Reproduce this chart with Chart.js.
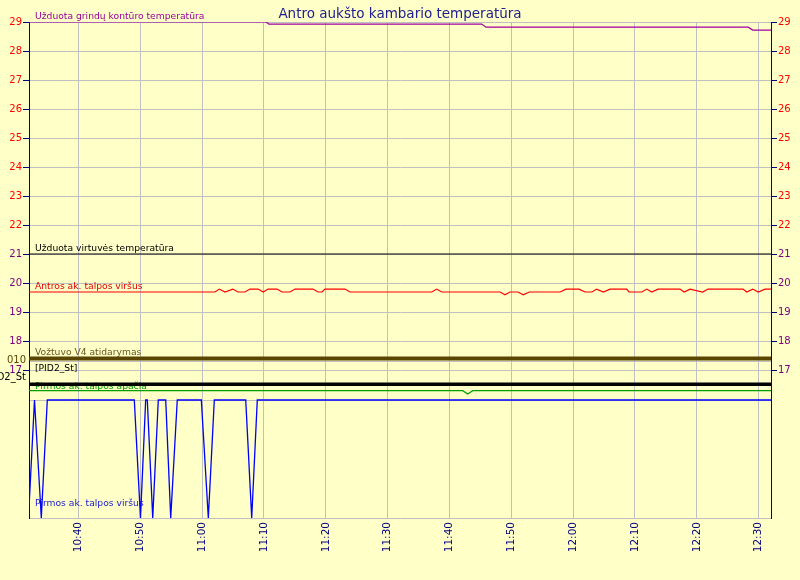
<!DOCTYPE html>
<html><head><meta charset="utf-8">
<script src="https://cdn.jsdelivr.net/npm/chart.js@4/dist/chart.umd.min.js"></script>
<style>html,body{margin:0;padding:0;background:#ffffc8;}canvas{display:block;}</style>
</head><body><canvas id="c" width="800" height="580"></canvas>
<script>
// ---- data (time = minutes after 10:32) ----
const START_CLOCK = '10:32';
const END_MIN = 120;
const timeTicks = ['10:40','10:50','11:00','11:10','11:20','11:30','11:40','11:50','12:00','12:10','12:20','12:30'];
const tempTicks = [17,18,19,20,21,22,23,24,25,26,27,28,29];

const floorSetT = [0, 38.33, 38.81, 73.21, 73.91, 116.33, 117.04, 120];
const floorSetV = [29, 29, 28.93, 28.93, 28.82, 28.82, 28.72, 28.72];

const kitchenSetT = [0, 120];
const kitchenSetV = [21, 21];

const tank2TopT = [0,30.08,30.78,31.70,32.94,33.80,34.93,35.74,37.03,37.89,
  38.65,40.11,40.92,42.21,43.02,45.93,46.74,47.38,47.87,51.11,
  51.91,65.13,65.94,66.75,76.18,76.98,77.79,79.08,79.94,80.91,
  85.88,86.85,88.95,89.92,91.05,91.81,92.88,93.96,96.66,97.03,
  99.13,99.90,100.71,101.73,105.29,105.94,106.91,108.95,109.81,115.47,
  116.07,117.04,117.94,119.03,120];
const tank2TopV = [19.69,19.69,19.79,19.69,19.79,19.69,19.69,19.79,19.79,19.69,
  19.79,19.79,19.69,19.69,19.79,19.79,19.69,19.69,19.79,19.79,
  19.69,19.69,19.79,19.69,19.69,19.59,19.69,19.69,19.59,19.69,
  19.69,19.79,19.79,19.69,19.69,19.79,19.69,19.79,19.79,19.69,
  19.69,19.79,19.69,19.79,19.79,19.69,19.79,19.69,19.79,19.79,
  19.69,19.79,19.69,19.79,19.79];

const valveT = [0, 120];
const valveV = [0, 0];

const pidT = [0, 120];
const pidV = [1, 1];

const tank1BottomT = [0, 70.14, 70.95, 71.76, 120];
const tank1BottomV = [25.0, 25.0, 24.5, 25.0, 25.0];

const tank1TopT = [0,0.89,1.99,2.96,17.03,18.03,18.87,19.13,20.01,20.91,
  22.11,22.92,23.98,27.87,29.00,29.97,35.05,36.02,36.92,120];
const tank1TopV = [0.09,1,0,1,1,0,1,1,0,1,
  1,0,1,1,0,1,1,0,1,1];

// ---- helpers ----
const clockToMin = s => { const [h,m] = s.split(':').map(Number); const [h0,m0] = START_CLOCK.split(':').map(Number); return h*60+m-(h0*60+m0); };
const pts = (t, v) => t.map((x, i) => ({x, y: v[i]}));

const BG = '#ffffc8', GRID = '#c0c0c0', NAVY = '#000080';
const RED = '#ff0000', PURPLE = '#990099', LABPURPLE = '#800080';
const FONT = 'DejaVu Sans';

const seriesLabels = [
  {ds:0, text:'Užduota grindų kontūro temperatūra', color:PURPLE, dy:-3},
  {ds:1, text:'Užduota virtuvės temperatūra', color:'#000000', dy:-3},
  {ds:2, text:'Antros ak. talpos viršus', color:'#e00000', dy:-2.5},
  {ds:3, text:'Vožtuvo V4 atidarymas', color:'#6a5420', dy:-3.5},
  {ds:4, text:'[PID2_St]', color:'#000000', dy:-13},
  {ds:5, text:'Pirmos ak. talpos apačia', color:'#00a000', dy:-1.5},
  {ds:6, text:'Pirmos ak. talpos viršus', color:'#1a1ad0', dy:-1.5},
];
const bandLabels = [
  {ds:3, text:'010', color:'#5a4600', dy:2},
  {ds:4, text:'PID2_St', color:'#000000', dy:-7},
];

const bgPlugin = {
  id:'bg',
  beforeDraw(chart){ const c=chart.ctx; c.save(); c.fillStyle=BG; c.fillRect(0,0,chart.width,chart.height); c.restore(); }
};
const labelPlugin = {
  id:'labels',
  beforeDatasetsDraw(chart){
    const c=chart.ctx, a=chart.chartArea;
    c.save();
    c.font = '9.2px "'+FONT+'"';
    c.textAlign='left'; c.textBaseline='alphabetic';
    seriesLabels.forEach(l=>{
      const p = chart.getDatasetMeta(l.ds).data[0];
      c.fillStyle=l.color; c.fillText(l.text, a.left+6, p.y+l.dy);
    });
    c.restore();
  },
  afterDraw(chart){
    const c=chart.ctx, a=chart.chartArea;
    c.save();
    c.font = '10px "'+FONT+'"';
    c.textAlign='right'; c.textBaseline='middle';
    bandLabels.forEach(l=>{
      const p = chart.getDatasetMeta(l.ds).data[0];
      c.fillStyle=l.color; c.fillText(l.text, a.left-3, p.y+l.dy);
    });
    c.restore();
  }
};

const ds = (label, t, v, color, width, axis) => ({
  label, data: pts(t, v), borderColor: color, backgroundColor: color,
  borderWidth: width, pointRadius: 0, tension: 0, yAxisID: axis, fill:false
});

const tempScale = (pos) => ({
  type:'linear', position:pos, min: 29 - 496/29, max: 29,
  afterBuildTicks: s => { s.ticks = tempTicks.map(v => ({value:v})); },
  afterFit: s => { s.width = 29; },
  ticks: { color: c => (c.tick && c.tick.value >= 22) ? RED : LABPURPLE, font:{family:FONT, size:10}, padding:1, autoSkip:false },
  grid: { color: GRID, tickColor: NAVY, tickLength: 6, drawOnChartArea: pos==='left' },
  border: { color: NAVY, width: 1 }
});

new Chart(document.getElementById('c'), {
  type:'line',
  data:{ datasets:[
    ds('Užduota grindų kontūro temperatūra', floorSetT, floorSetV, '#a000a0', 1.2, 'y'),
    ds('Užduota virtuvės temperatūra', kitchenSetT, kitchenSetV, '#000000', 1, 'y'),
    ds('Antros ak. talpos viršus', tank2TopT, tank2TopV, '#ff0000', 1.2, 'y'),
    ds('Vožtuvo V4 atidarymas', valveT, valveV, '#5a4600', 4, 'yV'),
    ds('PID2_St', pidT, pidV, '#000000', 3.5, 'yP'),
    ds('Pirmos ak. talpos apačia', tank1BottomT, tank1BottomV, '#00a000', 1.2, 'yG'),
    ds('Pirmos ak. talpos viršus', tank1TopT, tank1TopV, '#0000ff', 1.3, 'yB'),
  ]},
  options:{
    responsive:false, animation:false, devicePixelRatio:1,
    layout:{ padding:0 },
    plugins:{
      legend:{display:false}, tooltip:{enabled:false},
      title:{ display:true, text:'Antro aukšto kambario temperatūra', color:'#202090',
        font:{family:FONT, size:13.5, weight:'normal', lineHeight:1.1}, padding:{top:7.15, bottom:0} }
    },
    scales:{
      x:{ type:'linear', position:'bottom', min:0, max:END_MIN,
        afterBuildTicks: s => { s.ticks = timeTicks.map(l => ({value: clockToMin(l)})); },
        afterFit: s => { s.height = 62; },
        ticks:{ callback:(v,i)=>timeTicks[i], minRotation:90, maxRotation:90, autoSkip:false,
          color:NAVY, font:{family:FONT, size:10.5}, padding:4 },
        grid:{ color:GRID, drawTicks:false },
        border:{ color:GRID }
      },
      y: tempScale('left'),
      y2: tempScale('right'),
      yV:{ type:'linear', display:false, min:-47.4, max:100 },
      yP:{ type:'linear', position:'left', min:-5, max:17.25,
        afterBuildTicks: s => { s.ticks = [{value:2}]; },
        afterFit: s => { s.width = 0; },
        ticks:{ display:false }, grid:{ color:GRID, drawTicks:false }, border:{ display:false } },
      yG:{ type:'linear', display:false, min:5.7, max:80.9 },
      yB:{ type:'linear', position:'left', min:0, max:496/118,
        afterBuildTicks: s => { s.ticks = [{value:1}]; },
        afterFit: s => { s.width = 0; },
        ticks:{ display:false }, grid:{ color:GRID, drawTicks:false }, border:{ display:false } }
    }
  },
  plugins:[bgPlugin, labelPlugin]
});
</script>
</body></html>
